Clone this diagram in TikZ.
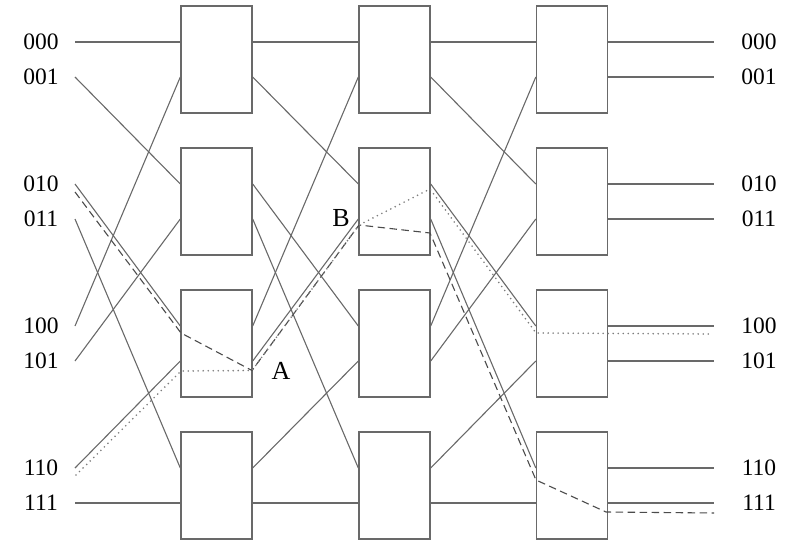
\documentclass[tikz,border=0pt]{standalone}
\usepackage{fontspec}
\setmainfont{Liberation Serif}
\usetikzlibrary{calc}
\definecolor{linec}{RGB}{105,105,105}
\definecolor{dotc}{RGB}{125,125,125}
\definecolor{dashc}{RGB}{75,75,75}
\begin{document}
\begin{tikzpicture}[x=1pt,y=-1pt,
  swbox/.style={draw=linec, line width=1.4pt, minimum width=71pt, minimum height=107pt, inner sep=0pt},
  wire/.style={draw=linec, line width=1.1pt},
  pathdash/.style={draw=dashc, line width=1.1pt, dash pattern=on 7.5pt off 4.5pt},
  pathdot/.style={draw=dotc, line width=1.8pt, line cap=round, dash pattern=on 0pt off 5pt},
  lab/.style={font=\fontsize{23.5}{27}\selectfont, inner sep=0pt},
  biglab/.style={font=\fontsize{26}{30}\selectfont, inner sep=0pt}]
\useasboundingbox (0,0) rectangle (799,540);
% switch boxes and their ports
\foreach \s/\cx in {0/216.5,1/394.5,2/572} {
  \foreach \r in {0,...,3} {
    \pgfmathtruncatemacro\pu{2*\r}
    \pgfmathtruncatemacro\pl{2*\r+1}
    \node[swbox] (b\s\r) at (\cx,{59.5+142*\r}) {};
    \path (b\s\r.west) ++(0,-17.5) coordinate (i\s-\pu);
    \path (b\s\r.west) ++(0,17.5) coordinate (i\s-\pl);
    \path (b\s\r.east) ++(0,-17.5) coordinate (o\s-\pu);
    \path (b\s\r.east) ++(0,17.5) coordinate (o\s-\pl);
  }
}
% terminal labels
\foreach \p/\t in {0/000,1/001,2/010,3/011,4/100,5/101,6/110,7/111} {
  \pgfmathsetmacro\py{42+142*int(\p/2)+35*mod(\p,2)}
  \node[lab] (in\p) at (41,\py) {\t};
  \node[lab] (out\p) at (759,\py) {\t};
  \coordinate (t\p) at (75,\py);
  \coordinate (u\p) at (714,\py);
}
% perfect-shuffle wiring
\foreach \p/\q in {0/0,1/2,2/4,3/6,4/1,5/3,6/5,7/7} {
  \draw[wire] (t\p) -- (i0-\q);
  \draw[wire] (o0-\p) -- (i1-\q);
  \draw[wire] (o1-\p) -- (i2-\q);
}
\foreach \p in {0,...,7} { \draw[wire] (o2-\p) -- (u\p); }
% conflict points
\coordinate (A) at (252,370.5);
\coordinate (B) at (359,225);
\node[biglab] (labA) at (281,371) {A};
\node[biglab] (labB) at (341,218) {B};
% dashed route (010 -> 111)
\coordinate (d0) at (75,192);
\coordinate (d1) at (181,333);
\coordinate (d4) at (430,233);
\coordinate (d5) at (536,480);
\coordinate (d6) at (606,512);
\coordinate (d7) at (714,513);
\draw[pathdash] (d0) -- (d1) -- (A) -- (B) -- (d4) -- (d5) -- (d6) -- (d7);
% dotted route (110 -> 100)
\coordinate (e0) at (76,475);
\coordinate (e1) at (181,371);
\coordinate (e4) at (430,189);
\coordinate (e5) at (536,333);
\coordinate (e6) at (712,334);
\draw[pathdot] (e0) -- (e1) -- (A) -- (B) -- (e4) -- (e5) -- (e6);
\end{tikzpicture}
\end{document}
